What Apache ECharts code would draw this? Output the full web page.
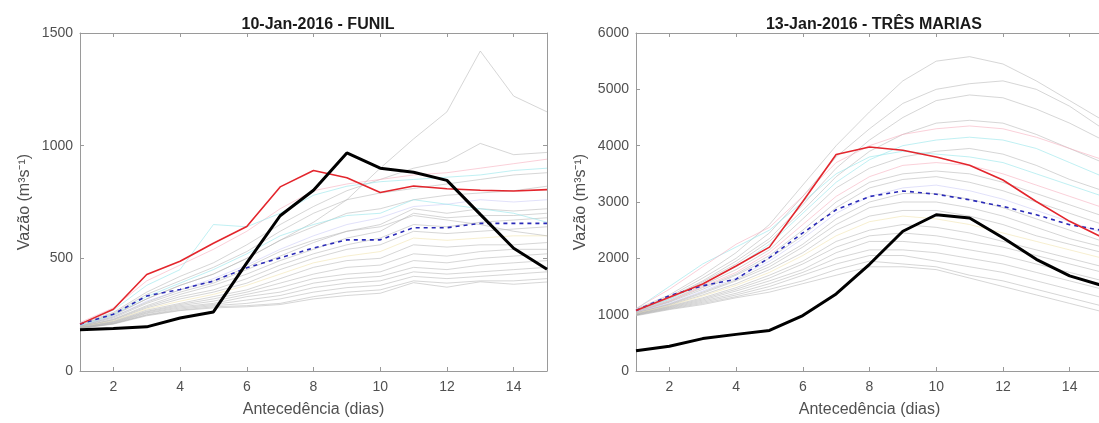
<!DOCTYPE html>
<html>
<head>
<meta charset="utf-8">
<script src="https://cdn.jsdelivr.net/npm/echarts@6/dist/echarts.min.js"></script>
<style>
html,body{margin:0;padding:0;background:#fff;overflow:hidden;}
#c{width:1104px;height:423px;}
</style>
</head>
<body>
<div id="c"></div>
<script>
// ---------- DATA ----------
const days = [1,2,3,4,5,6,7,8,9,10,11,12,13,14,15];
const xTickValues = [2,4,6,8,10,12,14];
const titles = ['10-Jan-2016 - FUNIL', '13-Jan-2016 - TRÊS MARIAS'];
const yLabel = 'Vazão (m³s⁻¹)';
const xLabel = 'Antecedência (dias)';

// FUNIL
const funilObserved = [183,189,196,235,262,480,689,802,968,900,882,846,695,545,452];
const funilRed      = [208,274,428,487,567,641,817,890,858,792,821,809,802,799,805];
const funilMean     = [208,252,333,362,399,458,502,546,582,582,636,636,655,655,655];
const funilMembers = [
  [205,250,320,380,430,500,580,660,760,900,1030,1150,1420,1220,1150],
  [210,260,350,420,480,560,650,730,800,850,900,930,1010,960,970],
  [215,280,400,470,540,620,720,800,830,850,870,880,900,920,940],
  [210,270,380,450,650,640,700,780,820,840,850,860,870,890,900],
  [205,255,340,400,460,530,620,700,760,790,810,830,850,870,880],
  [200,245,320,380,430,500,580,640,700,720,760,780,790,800,820],
  [200,240,310,360,410,470,540,600,650,680,730,740,760,750,760],
  [198,235,300,350,390,450,510,570,620,650,720,700,720,710,720],
  [196,230,290,340,380,430,490,540,590,620,700,680,690,690,700],
  [195,228,285,330,360,410,470,520,560,590,650,640,660,670,680],
  [195,225,280,320,350,390,450,500,540,560,620,610,620,630,640],
  [194,222,275,310,340,380,430,480,510,530,590,580,590,600,600],
  [193,220,270,300,330,360,410,460,490,500,560,550,560,560,570],
  [192,218,265,295,320,350,390,430,460,470,520,510,530,540,540],
  [192,216,262,290,310,340,370,410,430,440,490,480,500,510,520],
  [191,214,258,285,300,330,350,390,410,420,460,450,470,480,490],
  [190,212,255,280,295,315,335,370,390,400,440,430,440,450,460],
  [190,210,250,275,290,300,320,350,370,380,420,410,420,430,440],
  [190,210,248,270,285,290,300,330,350,360,400,390,400,400,410],
  [189,208,245,268,280,285,295,320,335,345,392,372,396,385,395],
  [200,250,330,390,450,520,600,650,690,700,760,740,720,700,660],
  [198,240,305,360,400,460,530,580,620,640,690,670,650,620,600]
];
const funilMemberTint = [0,0,2,1,0,0,3,0,0,0,0,4,0,0,0,0,0,0,0,0,1,0];

// TRÊS MARIAS
const tmObserved = [358,440,575,650,720,985,1367,1894,2481,2774,2716,2364,1982,1689,1513];
const tmRed      = [1073,1308,1543,1865,2199,3009,3842,3977,3918,3800,3654,3390,3009,2657,2364];
const tmMean     = [1073,1337,1513,1630,2012,2452,2862,3097,3196,3138,3038,2921,2774,2598,2493];
const tmMembers = [
  [1100,1350,1700,2100,2600,3300,4000,4600,5150,5500,5580,5450,5150,4800,4450],
  [1090,1320,1650,2000,2450,3100,3800,4300,4750,5000,5100,5150,5000,4700,4300],
  [1080,1300,1600,1950,2350,2950,3600,4100,4500,4800,4900,4850,4650,4400,4100],
  [1070,1280,1580,1900,2300,2850,3450,3900,4200,4400,4450,4400,4200,3950,3700],
  [1060,1270,1550,1850,2250,2800,3350,3750,4000,4100,4150,4100,3950,3700,3450],
  [1060,1250,1520,1800,2150,2700,3250,3600,3800,3900,3950,3850,3650,3400,3200],
  [1050,1240,1500,1750,2100,2600,3100,3450,3650,3700,3650,3500,3300,3100,2900],
  [1050,1230,1480,1720,2050,2500,3000,3350,3500,3550,3500,3350,3150,2950,2750],
  [1040,1220,1450,1700,2000,2400,2900,3250,3400,3450,3350,3200,3000,2800,2600],
  [1040,1200,1420,1650,1950,2350,2800,3100,3250,3300,3200,3050,2850,2650,2450],
  [1030,1190,1400,1620,1900,2250,2700,3000,3150,3150,3050,2900,2700,2500,2300],
  [1030,1180,1380,1600,1850,2200,2600,2900,3000,3000,2900,2750,2550,2350,2200],
  [1020,1170,1350,1550,1800,2100,2500,2750,2850,2850,2750,2600,2400,2250,2100],
  [1020,1160,1330,1520,1750,2050,2400,2650,2750,2700,2600,2450,2300,2150,2000],
  [1010,1150,1300,1480,1700,1950,2300,2500,2600,2550,2450,2300,2150,2000,1850],
  [1010,1140,1280,1450,1650,1900,2200,2400,2450,2400,2300,2200,2050,1900,1750],
  [1000,1130,1260,1420,1600,1800,2100,2300,2300,2250,2150,2050,1900,1750,1600],
  [1000,1120,1240,1380,1550,1750,2000,2150,2150,2100,2000,1900,1750,1600,1450],
  [990,1110,1220,1350,1500,1700,1900,2050,2050,1950,1850,1750,1600,1450,1300],
  [990,1100,1200,1320,1450,1600,1800,1950,1900,1850,1700,1600,1450,1300,1150],
  [980,1090,1180,1300,1400,1550,1700,1850,1850,1800,1650,1500,1350,1200,1050],
  [1100,1500,1900,2200,2500,3000,3500,3800,3900,3850,3800,3700,3500,3300,3100],
  [1110,1450,1850,2250,2550,3100,3700,4000,4200,4300,4350,4300,4150,3950,3750]
];
const tmMemberTint = [0,0,0,0,1,0,2,0,0,3,0,0,0,4,0,0,0,0,0,0,0,1,2];

const yMax = [1500, 6000];
const yStep = [500, 1000];

// ---------- STYLE ----------
const tintColors = ['rgba(180,180,180,0.55)','rgba(150,230,235,0.6)','rgba(245,170,185,0.55)','rgba(200,200,245,0.55)','rgba(240,225,170,0.55)'];
const axisGray = '#9a9a9a';
const labelColor = '#505050';
const font = 'Liberation Sans, Arial, Helvetica, sans-serif';

const grids = [
  {left: 80, top: 33, width: 467, height: 341},
  {left: 636, top: 33, width: 467, height: 341}
];

const xAxes = [], yAxes = [], series = [];
function pair(arr){ return days.map((d,i)=>[d, arr[i]]); }

for (let g = 0; g < 2; g++) {
  xAxes.push({
    type:'value', gridIndex:g, min:1, max:15, position:'bottom',
    name: xLabel, nameLocation:'middle', nameGap:31,
    nameTextStyle:{color:labelColor, fontSize:16, fontFamily:font},
    axisLine:{show:true, onZero:false, lineStyle:{color:axisGray, width:1}},
    axisTick:{show:true, inside:true, length:4, customValues:xTickValues, lineStyle:{color:axisGray}},
    axisLabel:{show:true, customValues:xTickValues, color:labelColor, fontSize:14, fontFamily:font, margin:9},
    splitLine:{show:false}
  });
  xAxes.push({
    type:'value', gridIndex:g, min:1, max:15, position:'top',
    axisLine:{show:true, onZero:false, lineStyle:{color:axisGray, width:1}},
    axisTick:{show:true, inside:true, length:4, customValues:xTickValues, lineStyle:{color:axisGray}},
    axisLabel:{show:false}, splitLine:{show:false}
  });
  yAxes.push({
    type:'value', gridIndex:g, min:0, max:yMax[g], interval:yStep[g], position:'left',
    name: yLabel, nameLocation:'middle', nameGap:47, nameRotate:90,
    nameTextStyle:{color:labelColor, fontSize:16, fontFamily:font},
    axisLine:{show:true, onZero:false, lineStyle:{color:axisGray, width:1}},
    axisTick:{show:true, inside:true, length:4, lineStyle:{color:axisGray}},
    axisLabel:{color:labelColor, fontSize:14, fontFamily:font, margin:7, formatter:(v)=>String(v)},
    splitLine:{show:false}
  });
  yAxes.push({
    type:'value', gridIndex:g, min:0, max:yMax[g], interval:yStep[g], position:'right',
    axisLine:{show:true, onZero:false, lineStyle:{color:axisGray, width:1}},
    axisTick:{show:true, inside:true, length:4, lineStyle:{color:axisGray}},
    axisLabel:{show:false}, splitLine:{show:false}
  });
}

function addPanel(g, members, tints, mean, red, obs){
  const xi = g*2, yi = g*2;
  members.forEach((m, k) => {
    series.push({type:'line', xAxisIndex:xi, yAxisIndex:yi, data:pair(m), symbol:'none',
      lineStyle:{color:tintColors[tints[k]], width:1}, z:1, silent:true});
  });
  series.push({type:'line', xAxisIndex:xi, yAxisIndex:yi, data:pair(mean), symbol:'none',
    lineStyle:{color:'#2a2ab8', width:1.6, type:[4,4]}, z:3});
  series.push({type:'line', xAxisIndex:xi, yAxisIndex:yi, data:pair(red), symbol:'none',
    lineStyle:{color:'#e3262d', width:1.6}, z:4});
  series.push({type:'line', xAxisIndex:xi, yAxisIndex:yi, data:pair(obs), symbol:'none',
    lineStyle:{color:'#000000', width:3}, z:5});
}
addPanel(0, funilMembers, funilMemberTint, funilMean, funilRed, funilObserved);
addPanel(1, tmMembers, tmMemberTint, tmMean, tmRed, tmObserved);

const chart = echarts.init(document.getElementById('c'), null, {renderer:'canvas'});
chart.setOption({
  animation:false,
  backgroundColor:'#ffffff',
  title: [
    {text:titles[0], left:313, top:12, textAlign:'center',
     textStyle:{fontSize:16, fontWeight:'bold', color:'#1a1a1a', fontFamily:font}},
    {text:titles[1], left:869, top:12, textAlign:'center',
     textStyle:{fontSize:16, fontWeight:'bold', color:'#1a1a1a', fontFamily:font}}
  ],
  grid: grids,
  xAxis: xAxes,
  yAxis: yAxes,
  series: series
});
</script>
</body>
</html>
